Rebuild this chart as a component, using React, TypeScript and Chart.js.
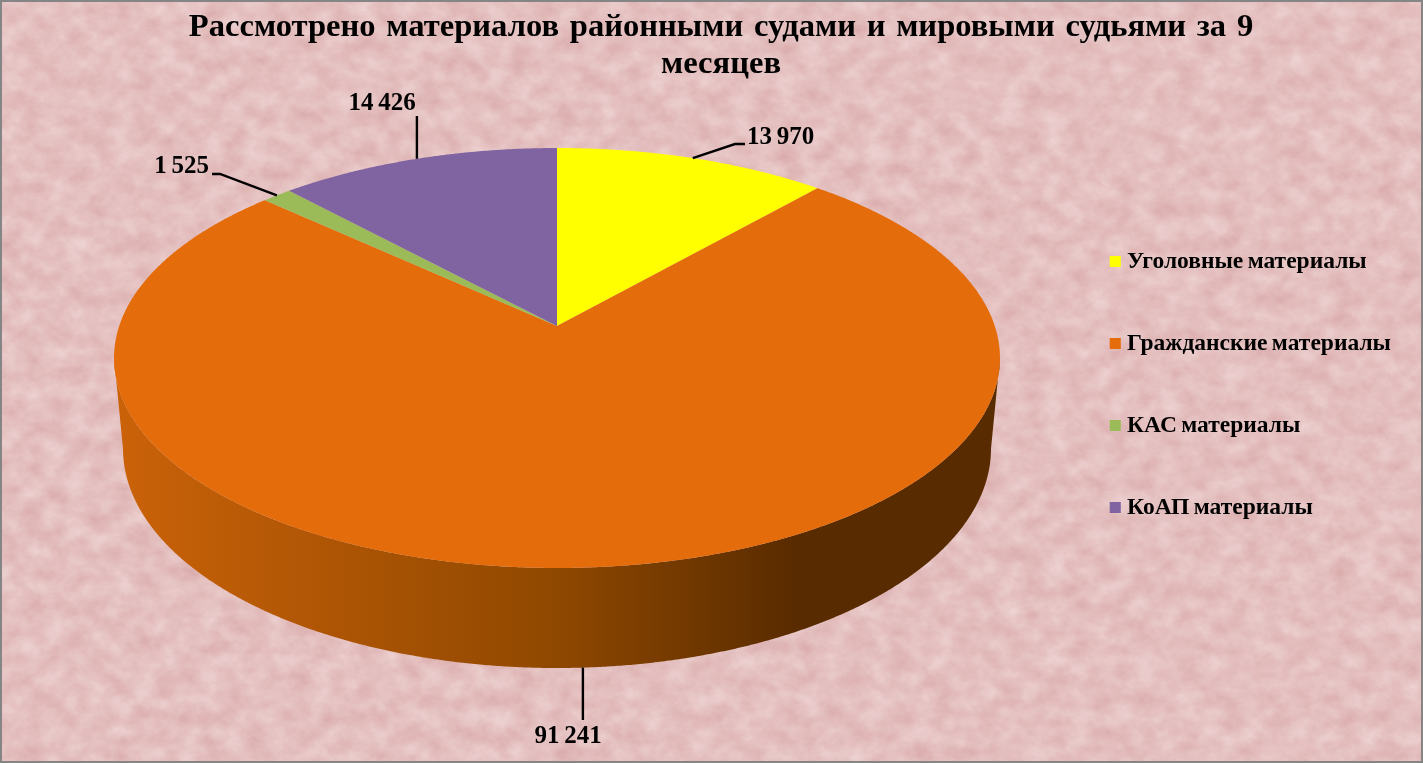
import React, { useEffect, useRef } from "react";
import { Chart, registerables } from "chart.js";

Chart.register(...registerables);

const titleLines = ["Рассмотрено материалов районными судами и мировыми судьями за 9", "месяцев"];
const categories = ["Уголовные материалы", "Гражданские материалы", "КАС материалы", "КоАП материалы"];
const seriesValues = [13970, 91241, 1525, 14426];
const valueLabels = ["13 970", "91 241", "1 525", "14 426"];
const sliceColors = ["#FFFF00", "#E46C0A", "#9BBB59", "#8064A2"];

const FONT = '"Liberation Serif"';

// Perspective of the pie's disc (projected circle, apex off the ellipse's centre).
const view = { cx: 557, cy: 326, a: 437.8, b: 205.1, k: 0.1524, depthScale: 0.0202, depthDrop: 91.7 };

function project(theta: number, lower = false) {
  const u = Math.cos(theta);
  const v = -Math.sin(theta);
  const w = 1 + view.k * v + (lower ? view.depthScale : 0);
  return {
    x: view.cx + (view.a * u) / w,
    y: view.cy + (-view.b * v + (lower ? view.depthDrop : 0)) / w,
  };
}

const calloutStyle = [
  { knee: [735, 144], end: [745, 144], text: [747, 138], align: "left" },
  { lower: true, kneeY: 720, text: [568, 737], align: "center" },
  { knee: [220, 174], end: [212, 174], text: [209, 167], align: "right" },
  { kneeY: 116, text: [382, 104], align: "center" },
];

function withWordSpacing(box: any, ctx: any, spacing: string) {
  if (box.__spaced) return;
  box.__spaced = true;
  const draw = box.draw.bind(box);
  box.draw = (area: any) => {
    ctx.wordSpacing = spacing;
    draw(area);
    ctx.wordSpacing = "0px";
  };
}

const perspectivePie = {
  id: "perspectivePie",
  afterLayout(chart: any) {
    const legend = chart.legend;
    const pad = legend.options.labels.padding;
    const w = legend.width;
    legend.left = 1115.2 - pad;
    legend.right = legend.left + w;
    legend.top = 249.75 - pad;
    const t = chart.titleBlock;
    t.left += 19;
    withWordSpacing(t, chart.ctx, "2.6px");
    withWordSpacing(legend, chart.ctx, "-1.5px");
  },
  beforeDatasetDraw() {
    return false;
  },
  afterDatasetsDraw(chart: any) {
    const ctx = chart.ctx;
    const arcs = chart.getDatasetMeta(0).data;
    ctx.save();

    // side wall of the largest slice
    const big = arcs[1];
    const from = Math.max(big.startAngle, 0.15);
    const to = Math.min(big.endAngle, Math.PI - 0.15);
    const grad = ctx.createLinearGradient(114, 0, 1000, 0);
    grad.addColorStop(0, "#CB6209");
    grad.addColorStop(0.5, "#8F4800");
    grad.addColorStop(0.77, "#592B00");
    grad.addColorStop(1, "#592B00");
    ctx.beginPath();
    for (let t = from; t <= to; t += 0.005) {
      const p = project(t, true);
      ctx.lineTo(p.x, p.y);
    }
    for (let t = to; t >= from; t -= 0.005) {
      const p = project(t);
      ctx.lineTo(p.x, p.y);
    }
    ctx.closePath();
    ctx.fillStyle = grad;
    ctx.fill();

    // top face
    arcs.forEach((arc: any, i: number) => {
      ctx.beginPath();
      ctx.moveTo(view.cx, view.cy);
      for (let t = arc.startAngle; t < arc.endAngle; t += 0.004) {
        const p = project(t);
        ctx.lineTo(p.x, p.y);
      }
      const e = project(arc.endAngle);
      ctx.lineTo(e.x, e.y);
      ctx.closePath();
      ctx.fillStyle = sliceColors[i];
      ctx.fill();
    });

    // callouts
    ctx.strokeStyle = "#000";
    ctx.lineWidth = 2.4;
    ctx.fillStyle = "#000";
    ctx.font = `bold 25px ${FONT}`;
    ctx.wordSpacing = "-1.5px";
    ctx.textBaseline = "middle";
    arcs.forEach((arc: any, i: number) => {
      const s = calloutStyle[i] as any;
      const mid = (arc.startAngle + arc.endAngle) / 2;
      const p = project(mid, !!s.lower);
      ctx.beginPath();
      ctx.moveTo(p.x, p.y);
      if (s.knee) {
        ctx.lineTo(s.knee[0], s.knee[1]);
        ctx.lineTo(s.end[0], s.end[1]);
      } else {
        ctx.lineTo(p.x, s.kneeY);
      }
      ctx.stroke();
      ctx.textAlign = s.align;
      ctx.fillText(valueLabels[i], s.text[0], s.text[1]);
    });
    ctx.wordSpacing = "0px";
    ctx.restore();
  },
};

const noise =
  "data:image/svg+xml," +
  encodeURIComponent(
    `<svg xmlns="http://www.w3.org/2000/svg" width="1423" height="763"><filter id="n" x="0" y="0" width="100%" height="100%" color-interpolation-filters="sRGB"><feTurbulence type="fractalNoise" baseFrequency="0.045 0.055" numOctaves="5" seed="7"/><feColorMatrix type="matrix" values="0.09 0 0 0 0.85  0.18 0 0 0 0.66  0.18 0 0 0 0.66  0 0 0 0 1"/></filter><rect width="1423" height="763" filter="url(#n)"/></svg>`
  );

export default function App() {
  const ref = useRef<HTMLCanvasElement>(null);
  useEffect(() => {
    const chart = new Chart(ref.current as HTMLCanvasElement, {
      type: "pie",
      data: {
        labels: categories,
        datasets: [{ data: seriesValues, backgroundColor: sliceColors, borderWidth: 0 }],
      },
      plugins: [perspectivePie],
      options: {
        animation: false,
        responsive: false,
        devicePixelRatio: 1,
        events: [],
        plugins: {
          tooltip: { enabled: false },
          title: {
            display: true,
            text: titleLines,
            color: "#000",
            font: { family: FONT, size: 32.6, weight: "bold", lineHeight: 1.135 },
            padding: { top: 9, bottom: 0 },
          },
          legend: {
            display: true,
            position: "right",
            align: "start",
            labels: {
              color: "#000",
              font: { family: FONT, size: 23.5, weight: "bold" },
              padding: 58.5,
              boxWidth: 0.1,
              boxHeight: 0.1,
              generateLabels: () =>
                categories.map((text, i) => ({
                  text,
                  fontColor: "#000",
                  fillStyle: sliceColors[i],
                  strokeStyle: sliceColors[i],
                  lineWidth: 11,
                  hidden: false,
                  index: i,
                })),
            },
          },
        },
      },
    } as any);
    return () => chart.destroy();
  }, []);
  return (
    <div style={{ position: "fixed", left: 0, top: 0, width: 1423, height: 763, overflow: "hidden", backgroundImage: `url("${noise}")`, backgroundColor: "#EAC6CA" }}>
      <canvas ref={ref} width={1423} height={763} style={{ position: "absolute", left: 0, top: 0, display: "block" }} />
      <div style={{ position: "absolute", inset: 0, boxSizing: "border-box", border: "2px solid #858585", pointerEvents: "none" }} />
    </div>
  );
}
